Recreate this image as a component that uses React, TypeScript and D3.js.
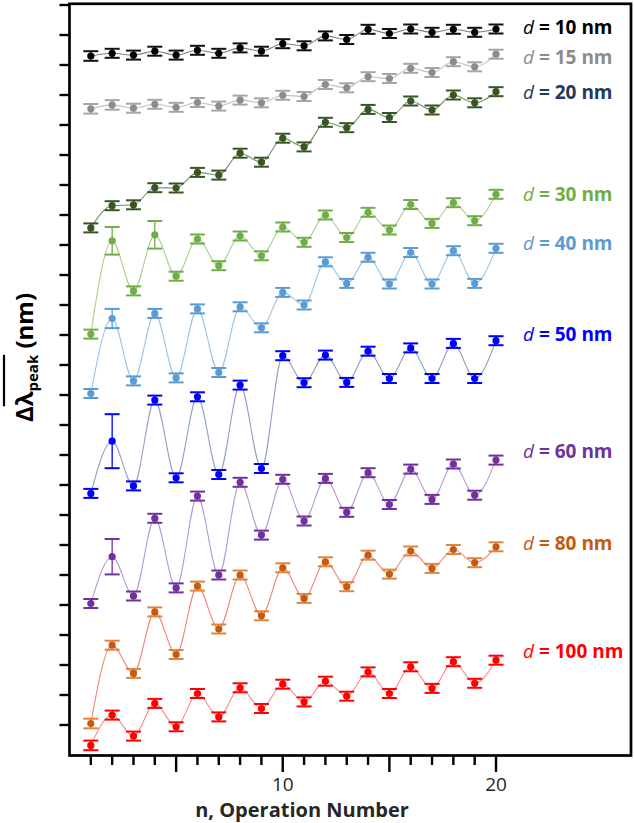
import React, { useLayoutEffect, useRef, useState } from "react";
import * as d3 from "d3";

// ---------- data ----------
const operationNumbers = [1, 2, 3, 4, 5, 6, 7, 8, 9, 10, 11, 12, 13, 14, 15, 16, 17, 18, 19, 20];
const thicknessNm = ["10", "15", "20", "30", "40", "50", "60", "80", "100"];

const d10 = [23.30, 23.39, 23.33, 23.46, 23.33, 23.49, 23.39, 23.57, 23.46, 23.71, 23.64, 23.97, 23.85, 24.19, 24.05, 24.20, 24.09, 24.19, 24.09, 24.20];
const d15 = [21.54, 21.67, 21.56, 21.69, 21.59, 21.75, 21.63, 21.83, 21.74, 21.99, 21.95, 22.35, 22.24, 22.61, 22.55, 22.89, 22.75, 23.11, 22.94, 23.36];
const d20 = [17.57, 18.31, 18.34, 18.91, 18.90, 19.42, 19.33, 20.06, 19.76, 20.56, 20.27, 21.09, 20.91, 21.52, 21.25, 21.80, 21.50, 22.00, 21.74, 22.11];
const d30 = [14.03, 17.14, 15.47, 17.34, 15.96, 17.20, 16.31, 17.30, 16.64, 17.60, 17.09, 18.00, 17.25, 18.09, 17.50, 18.35, 17.72, 18.41, 17.81, 18.69];
const d40 = [12.05, 14.55, 12.47, 14.72, 12.57, 14.87, 12.75, 14.94, 14.24, 15.42, 15.00, 16.44, 15.72, 16.59, 15.70, 16.75, 15.70, 16.81, 15.72, 16.89];
const d50 = [8.72, 10.46, 8.97, 11.83, 9.24, 11.94, 9.35, 12.33, 9.55, 13.31, 12.41, 13.33, 12.42, 13.46, 12.55, 13.57, 12.55, 13.72, 12.55, 13.81];
const d60 = [5.05, 6.61, 5.30, 7.89, 5.57, 8.63, 6.00, 9.09, 7.33, 9.19, 7.80, 9.22, 8.09, 9.41, 8.35, 9.53, 8.52, 9.70, 8.66, 9.83];
const d80 = [1.05, 3.66, 2.72, 4.77, 3.35, 5.63, 4.20, 6.00, 4.64, 6.24, 5.22, 6.44, 5.61, 6.66, 6.03, 6.80, 6.22, 6.85, 6.41, 6.94];
const d100 = [0.32, 1.33, 0.63, 1.72, 0.94, 2.05, 1.27, 2.24, 1.55, 2.36, 1.77, 2.46, 1.96, 2.77, 2.05, 2.94, 2.22, 3.11, 2.39, 3.16];

const e10 = [0.16, 0.15, 0.15, 0.15, 0.15, 0.15, 0.15, 0.15, 0.15, 0.15, 0.15, 0.15, 0.15, 0.15, 0.15, 0.15, 0.15, 0.15, 0.15, 0.15];
const e15 = [0.16, 0.16, 0.15, 0.15, 0.15, 0.15, 0.15, 0.15, 0.15, 0.15, 0.15, 0.15, 0.15, 0.15, 0.15, 0.15, 0.15, 0.15, 0.15, 0.15];
const e20 = [0.15, 0.15, 0.15, 0.15, 0.15, 0.15, 0.15, 0.15, 0.15, 0.15, 0.15, 0.15, 0.15, 0.15, 0.15, 0.15, 0.15, 0.15, 0.15, 0.15];
const e30 = [0.15, 0.46, 0.15, 0.46, 0.15, 0.15, 0.15, 0.15, 0.15, 0.15, 0.15, 0.15, 0.15, 0.15, 0.15, 0.15, 0.15, 0.15, 0.15, 0.15];
const e40 = [0.15, 0.32, 0.15, 0.15, 0.15, 0.15, 0.15, 0.15, 0.15, 0.15, 0.15, 0.15, 0.15, 0.15, 0.15, 0.15, 0.15, 0.15, 0.15, 0.15];
const e50 = [0.15, 0.90, 0.15, 0.15, 0.15, 0.15, 0.15, 0.15, 0.15, 0.15, 0.15, 0.15, 0.15, 0.15, 0.15, 0.15, 0.15, 0.15, 0.15, 0.15];
const e60 = [0.15, 0.59, 0.15, 0.15, 0.15, 0.15, 0.15, 0.15, 0.15, 0.15, 0.15, 0.15, 0.15, 0.15, 0.15, 0.15, 0.15, 0.15, 0.15, 0.15];
const e80 = [0.16, 0.15, 0.15, 0.15, 0.15, 0.15, 0.15, 0.15, 0.15, 0.15, 0.15, 0.15, 0.15, 0.15, 0.15, 0.15, 0.15, 0.15, 0.15, 0.15];
const e100 = [0.16, 0.15, 0.15, 0.15, 0.15, 0.15, 0.15, 0.15, 0.15, 0.15, 0.15, 0.15, 0.15, 0.15, 0.15, 0.15, 0.15, 0.15, 0.15, 0.15];

const seriesValues = [d10, d15, d20, d30, d40, d50, d60, d80, d100];
const seriesErrors = [e10, e15, e20, e30, e40, e50, e60, e80, e100];

// legend anchor (in y-data units) for each label
const legendAt = [24.03, 23.03, 21.87, 18.47, 16.85, 13.8, 9.9, 6.85, 3.23];
const xTickLabels = [10, 20];
const yTicks = d3.range(1, 26);

// ---------- styles ----------
const markerColors = ["#000000", "#8c8c8c", "#375623", "#70ad47", "#5b9bd5", "#0000ff", "#7030a0", "#c55a11", "#ff0000"];
const capColors = ["#111111", "#a6a6a6", "#375623", "#70ad47", "#5b9bd5", "#0000ff", "#7030a0", "#e0843e", "#ff0000"];
const lineColors = ["#7f7f7f", "#bfbfbf", "#7d8c70", "#a9d18e", "#9dc3e6", "#8fa3c4", "#b99ad6", "#f08878", "#f58c8c"];
const labelColors = ["#000000", "#8c8c8c", "#1f3864", "#70ad47", "#5b9bd5", "#0000ff", "#7030a0", "#c55a11", "#ff0000"];

const W = 634;
const H = 823;
const FONT = "'Open Sans', 'DejaVu Sans', sans-serif";

const x = d3.scaleLinear().domain([0, 26.33]).range([69.5, 631]);
const y = d3.scaleLinear().domain([0, 25]).range([755, 5]);

function YLabel() {
  const ref = useRef<SVGTextElement>(null);
  const [ov, setOv] = useState<{ x1: number; x2: number } | null>(null);
  useLayoutEffect(() => {
    const t = ref.current;
    if (!t) return;
    try {
      const total = t.getComputedTextLength();
      const a = t.getSubStringLength(0, 1);
      const b = t.getSubStringLength(0, 6);
      const start = -total / 2;
      setOv({ x1: start + a, x2: start + b });
    } catch (e) {
      setOv({ x1: -20, x2: 30 });
    }
  }, []);
  return (
    <g transform="translate(33,357.5) rotate(-90)">
      <text ref={ref} textAnchor="middle" fontFamily={FONT} fontWeight={700} fontSize={24} fill="#000">
        <tspan>Δλ</tspan>
        <tspan fontSize={15} dy={5}>peak</tspan>
        <tspan dy={-5}> (nm)</tspan>
      </text>
      {ov && <line x1={ov.x1} x2={ov.x2} y1={-29} y2={-29} stroke="#000" strokeWidth={2.2} />}
    </g>
  );
}

export default function App() {
  const line = d3
    .line<number>()
    .x((_, i) => x(operationNumbers[i]))
    .y((v) => y(v))
    .curve(d3.curveMonotoneX);

  const capHalf = 7.5;

  return (
    <svg
      width={W}
      height={H}
      style={{ position: "absolute", left: 0, top: 0, display: "block", background: "#fff" }}
    >
      <rect x={0} y={0} width={W} height={H} fill="#fff" />
      {/* series */}
      {seriesValues.map((vals, si) => (
        <g key={thicknessNm[si]}>
          <path d={line(vals) || ""} fill="none" stroke={lineColors[si]} strokeWidth={1.1} />
          {vals.map((v, i) => {
            const cx = x(operationNumbers[i]);
            const e = seriesErrors[si][i];
            const yTop = y(v + e);
            const yBot = y(v - e);
            return (
              <g key={i}>
                <line x1={cx} x2={cx} y1={yTop} y2={yBot} stroke={capColors[si]} strokeWidth={1.3} />
                <line x1={cx - capHalf} x2={cx + capHalf} y1={yTop} y2={yTop} stroke={capColors[si]} strokeWidth={2} />
                <line x1={cx - capHalf} x2={cx + capHalf} y1={yBot} y2={yBot} stroke={capColors[si]} strokeWidth={2} />
                <circle cx={cx} cy={y(v)} r={3.6} fill={markerColors[si]} />
              </g>
            );
          })}
        </g>
      ))}

      {/* frame */}
      <rect
        x={x(0)}
        y={y(25.04)}
        width={x(26.33) - x(0)}
        height={y(0) - y(25.04) + 0.5}
        fill="none"
        stroke="#000"
        strokeWidth={2.7}
      />
      {/* y ticks */}
      {yTicks.map((t) => (
        <line key={t} x1={x(0) - 10} x2={x(0)} y1={y(t)} y2={y(t)} stroke="#000" strokeWidth={2.4} />
      ))}
      {/* x ticks */}
      {operationNumbers.map((n) => (
        <line
          key={n}
          x1={x(n)}
          x2={x(n)}
          y1={y(0)}
          y2={y(0) + (n % 5 === 0 ? 17 : 10)}
          stroke="#000"
          strokeWidth={2.4}
        />
      ))}
      {xTickLabels.map((n) => (
        <text key={n} x={x(n)} y={791} textAnchor="middle" fontFamily={FONT} fontSize={19} fill="#262626">
          {n}
        </text>
      ))}
      <text x={302} y={817} textAnchor="middle" fontFamily={FONT} fontWeight={700} fontSize={20} fill="#262626">
        n, Operation Number
      </text>

      <YLabel />

      {/* legend labels */}
      {thicknessNm.map((d, i) => (
        <text key={d} x={523} y={y(legendAt[i])} fontFamily={FONT} fontSize={19} fill={labelColors[i]}>
          <tspan fontStyle="italic">d</tspan>
          <tspan fontWeight={700}>{` = ${d} nm`}</tspan>
        </text>
      ))}
    </svg>
  );
}
